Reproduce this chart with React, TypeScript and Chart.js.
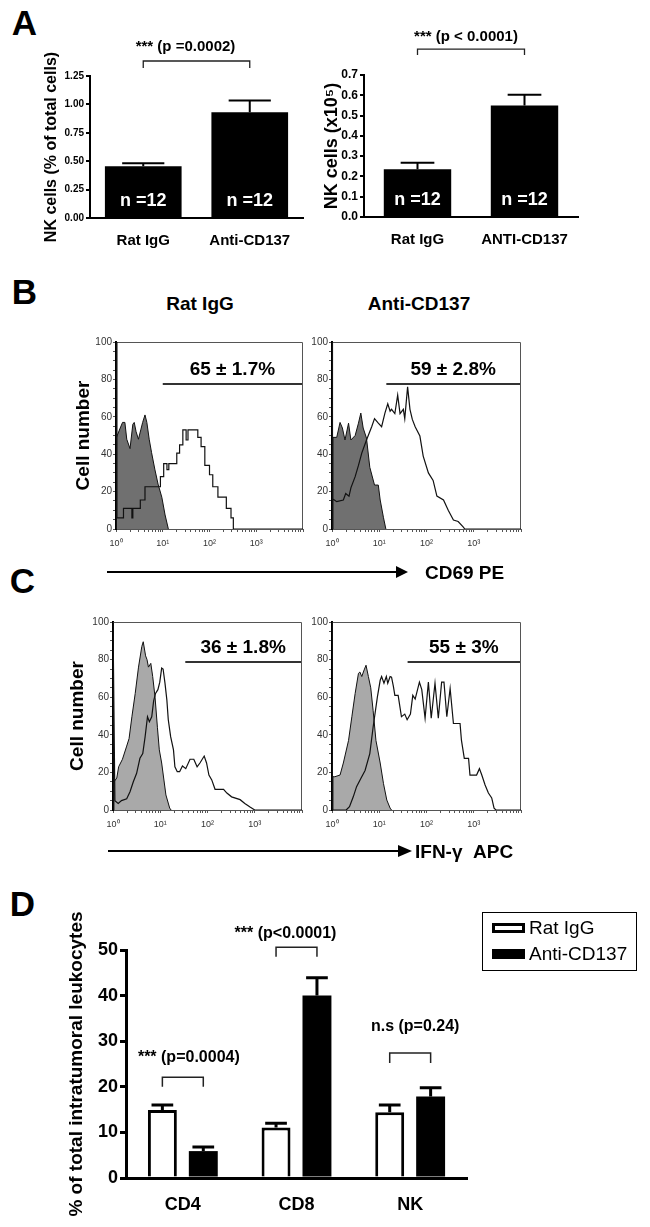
import React, { useEffect, useRef } from 'react';
import { Chart, registerables } from 'chart.js';

Chart.register(...registerables);
const FONT = '"Liberation Sans", Arial, Helvetica, sans-serif';
Chart.defaults.font.family = FONT;
Chart.defaults.color = '#000';

// ---------------- Panel A data ----------------
const groupsA1 = ['Rat IgG', 'Anti-CD137'];
const valuesA1 = [0.455, 0.93];
const errorsA1 = [0.027, 0.105];
const groupsA2 = ['Rat IgG', 'ANTI-CD137'];
const valuesA2 = [0.236, 0.55];
const errorsA2 = [0.032, 0.053];
const nLabelsA = ['n =12', 'n =12'];
const pTextA1 = '*** (p =0.0002)';
const pTextA2 = '*** (p < 0.0001)';

// ---------------- Panel B data (x in decades, y = cell number) ----------------
const bLeftStainedX = [0, 0, 0.02, 0.16, 0.34, 0.36, 0.52, 0.62, 0.95, 1.02, 1.09, 1.13, 1.3, 1.36, 1.43, 1.5, 1.54, 1.75, 1.82, 1.9, 2.0, 2.07, 2.18, 2.36, 2.46, 2.51, 4];
const bLeftStainedY = [0, 100, 6, 11, 6, 11, 15.5, 22.6, 28, 35, 31.7, 35, 40.6, 45, 53, 47.6, 53, 49, 44, 34, 29, 22.6, 17, 11, 6, 0, 0];
const bLeftIsoX = [0, 0.01, 0.09, 0.14, 0.19, 0.23, 0.3, 0.36, 0.39, 0.43, 0.48, 0.53, 0.57, 0.62, 0.66, 0.71, 0.76, 0.83, 0.9, 0.98, 1.05, 1.12];
const bLeftIsoY = [0, 49, 54, 57, 57, 48, 43, 56, 57, 52, 48, 53, 57, 61, 57, 48, 41, 32, 24, 17, 7.5, 0];

const bRightStainedX = [0, 0, 0.02, 0.05, 0.1, 0.24, 0.29, 0.36, 0.4, 0.49, 0.56, 0.63, 0.73, 0.84, 0.9, 0.98, 1.05, 1.12, 1.18, 1.23, 1.26, 1.33, 1.39, 1.44, 1.51, 1.54, 1.6, 1.65, 1.7, 1.76, 1.86, 1.93, 2.04, 2.14, 2.22, 2.36, 2.46, 2.57, 2.67, 2.78, 2.81, 4];
const bRightStainedY = [0, 100, 16, 15.5, 14.6, 15.5, 19, 17.5, 22, 28, 34, 40.6, 47.6, 54.7, 59, 56.6, 54.7, 62, 67, 63, 64, 61.7, 71.6, 61.7, 64, 59, 76, 64, 58.6, 54.7, 49.7, 39, 30, 26, 17.6, 15.5, 10, 4.8, 4, 1, 0, 0];
const bRightIsoX = [0, 0.02, 0.1, 0.17, 0.22, 0.275, 0.35, 0.4, 0.49, 0.56, 0.61, 0.66, 0.73, 0.8, 0.9, 0.98, 1.02, 1.09, 1.14];
const bRightIsoY = [0, 49, 49, 57, 54, 47.6, 56.6, 47.6, 50, 56.6, 62, 54, 48.6, 33, 23.5, 23.5, 15.5, 6, 0];

// ---------------- Panel C data ----------------
const cLeftStainedX = [0, 0, 0.04, 0.11, 0.18, 0.29, 0.36, 0.43, 0.5, 0.57, 0.63, 0.68, 0.73, 0.77, 0.82, 0.86, 0.9, 0.95, 0.99, 1.03, 1.06, 1.1, 1.14, 1.17, 1.22, 1.28, 1.31, 1.36, 1.41, 1.47, 1.54, 1.63, 1.71, 1.78, 1.84, 1.93, 1.98, 2.03, 2.09, 2.16, 2.34, 2.41, 2.51, 2.69, 2.79, 2.9, 3.0, 4];
const cLeftStainedY = [0, 100, 5, 3.5, 5, 6, 9.7, 15, 19.5, 27.5, 30, 39, 49.6, 47, 49.6, 58, 62, 64, 68, 75.5, 75, 67.5, 58.5, 48, 39, 32, 23, 20.4, 20.4, 23.4, 22, 27, 27, 23, 25, 28.7, 25, 18.6, 16, 11, 11, 9, 7, 5.5, 3.5, 1.6, 0, 0];
const cLeftIsoX = [0, 0.02, 0.08, 0.12, 0.2, 0.29, 0.34, 0.4, 0.47, 0.54, 0.61, 0.64, 0.69, 0.72, 0.75, 0.8, 0.84, 0.89, 0.94, 0.98, 1.03, 1.12, 1.2, 1.23];
const cLeftIsoY = [0, 15, 17, 23, 27, 34, 38, 49.6, 62, 76, 87, 89.5, 82, 80, 76, 78, 71, 60, 44, 32, 25, 8, 1, 0];

const cRightStainedX = [0, 0, 0.01, 0.3, 0.37, 0.45, 0.52, 0.61, 0.7, 0.8, 0.87, 0.96, 1.02, 1.05, 1.1, 1.15, 1.18, 1.23, 1.26, 1.3, 1.33, 1.4, 1.47, 1.54, 1.59, 1.66, 1.71, 1.76, 1.85, 1.9, 1.97, 2.04, 2.1, 2.18, 2.25, 2.32, 2.37, 2.43, 2.5, 2.57, 2.71, 2.74, 2.8, 2.89, 2.92, 3.06, 3.12, 3.17, 3.24, 3.31, 3.38, 3.43, 3.47, 4];
const cRightStainedY = [0, 100, 0, 0, 1.8, 7, 12.4, 16.8, 21, 30, 44, 60, 69, 71, 67.4, 71, 67.4, 71, 70.7, 65.6, 61, 61, 49.6, 51, 48, 51, 61, 59, 68, 64, 48.8, 68, 48.8, 67.4, 48.8, 68, 68, 49.6, 64.7, 46, 46, 37, 27.5, 27.5, 18.6, 18.6, 22, 18.6, 13.3, 9, 6.4, 1, 0, 0];
const cRightIsoX = [0, 0.02, 0.06, 0.17, 0.24, 0.35, 0.42, 0.49, 0.56, 0.59, 0.63, 0.68, 0.72, 0.77, 0.82, 0.87, 0.93, 1.02, 1.09, 1.16, 1.23, 1.26];
const cRightIsoY = [0, 17.7, 17.7, 18.6, 25, 37, 49.6, 62, 72.7, 73.4, 71, 74.5, 77, 71, 65, 53, 37, 25, 14, 5.3, 1, 0];

const gateLabels = ['65 ± 1.7%', '59 ± 2.8%', '36 ± 1.8%', '55 ± 3%'];
const gateStarts = [1.0, 1.15, 1.53, 1.6];
const gateLevels = [77.5, 77.5, 78.7, 78.7];
const decadeLabels = ['10⁰', '10¹', '10²', '10³'];

// ---------------- Panel D data ----------------
const categoriesD = ['CD4', 'CD8', 'NK'];
const seriesNamesD = ['Rat IgG', 'Anti-CD137'];
const ratIgG = [14.9, 11.1, 14.4];
const ratIgGErr = [1.1, 0.9, 1.6];
const antiCD137 = [5.9, 40.0, 17.9];
const antiCD137Err = [0.9, 3.9, 1.9];
const pTextsD = ['*** (p=0.0004)', '*** (p<0.0001)', 'n.s (p=0.24)'];
const bracketYD = [22.1, 50.6, 27.4];
const bracketTickD = [20.0, 48.5, 25.2];
const pTextYD = [26.5, 53.7, 33.1];

// ---------------- helpers ----------------
type Rect = { left: number; top: number; w: number; h: number };
type Area = { x0: number; x1: number; y0: number; y1: number };

function frame(c: Rect, a: Area, titleCenter: number | null, titleSize: number) {
  const half = (titleSize * 1.2) / 2;
  const padLeft = titleCenter === null ? 0 : titleCenter - half - c.left;
  return {
    padding: { left: padLeft, top: a.y0 - c.top, right: c.left + c.w - a.x1, bottom: 0 },
    yWidth: a.x0 - c.left - padLeft,
    xHeight: c.top + c.h - a.y1,
  };
}

const zip = (xs: number[], ys: number[]) => xs.slice(0, Math.min(xs.length, ys.length)).map((x, i) => ({ x, y: ys[i] }));

type Bracket = { from: [number, number]; to: [number, number]; y: number; tick: number; textY: number; text: string; dx: number };

function annotPlugin(o: { errors: number[][]; capFrac: number; errWidth: number; nLabels?: string[]; nSize?: number; nOffset?: number; brackets: Bracket[]; pSize: number; bracketWidth: number }) {
  return {
    id: 'annot',
    afterDatasetsDraw(chart: any) {
      const ctx = chart.ctx;
      const ys = chart.scales.y;
      ctx.save();
      ctx.strokeStyle = '#000';
      ctx.lineWidth = o.errWidth;
      o.errors.forEach((errs, di) => {
        const meta = chart.getDatasetMeta(di);
        meta.data.forEach((el: any, i: number) => {
          const v = chart.data.datasets[di].data[i] as number;
          const top = ys.getPixelForValue(v + errs[i]);
          const half = (el.width * o.capFrac) / 2;
          ctx.beginPath();
          ctx.moveTo(el.x, el.y);
          ctx.lineTo(el.x, top);
          ctx.moveTo(el.x - half, top);
          ctx.lineTo(el.x + half, top);
          ctx.stroke();
        });
      });
      if (o.nLabels) {
        const meta = chart.getDatasetMeta(0);
        ctx.fillStyle = '#fff';
        ctx.font = `bold ${o.nSize}px ${FONT}`;
        ctx.textAlign = 'center';
        ctx.textBaseline = 'middle';
        meta.data.forEach((el: any, i: number) => ctx.fillText(o.nLabels![i], el.x, ys.getPixelForValue(0) - (o.nOffset || 0)));
      }
      ctx.strokeStyle = '#222';
      ctx.lineWidth = o.bracketWidth;
      ctx.fillStyle = '#000';
      ctx.font = `bold ${o.pSize}px ${FONT}`;
      ctx.textAlign = 'center';
      ctx.textBaseline = 'middle';
      o.brackets.forEach((b) => {
        const xa = chart.getDatasetMeta(b.from[0]).data[b.from[1]].x;
        const xb = chart.getDatasetMeta(b.to[0]).data[b.to[1]].x;
        const y = ys.getPixelForValue(b.y);
        const yt = ys.getPixelForValue(b.tick);
        ctx.beginPath();
        ctx.moveTo(xa, yt);
        ctx.lineTo(xa, y);
        ctx.lineTo(xb, y);
        ctx.lineTo(xb, yt);
        ctx.stroke();
        ctx.fillText(b.text, (xa + xb) / 2 + b.dx, ys.getPixelForValue(b.textY));
      });
      ctx.restore();
    },
  };
}

function histPlugin(gateFrom: number, gateY: number, label: string) {
  return {
    id: 'hist',
    beforeDatasetsDraw(chart: any) {
      const { ctx, chartArea: a } = chart;
      ctx.save();
      ctx.strokeStyle = '#555';
      ctx.lineWidth = 1;
      ctx.beginPath();
      ctx.moveTo(a.left, a.top + 0.5);
      ctx.lineTo(a.right - 0.5, a.top + 0.5);
      ctx.lineTo(a.right - 0.5, a.bottom);
      ctx.stroke();
      ctx.restore();
    },
    afterDatasetsDraw(chart: any) {
      const { ctx } = chart;
      const xs = chart.scales.x;
      const ys = chart.scales.y;
      const x0 = xs.getPixelForValue(gateFrom);
      const x1 = xs.getPixelForValue(xs.max) - 1;
      const y = ys.getPixelForValue(gateY);
      ctx.save();
      ctx.strokeStyle = '#333';
      ctx.lineWidth = 2;
      ctx.beginPath();
      ctx.moveTo(x0, y);
      ctx.lineTo(x1, y);
      ctx.stroke();
      ctx.fillStyle = '#000';
      ctx.font = `bold 19px ${FONT}`;
      ctx.textAlign = 'center';
      ctx.textBaseline = 'middle';
      ctx.fillText(label, (x0 + x1) / 2, y - 14);
      ctx.restore();
    },
  };
}

function ChartCanvas({ rect, make }: { rect: Rect; make: (cv: HTMLCanvasElement) => Chart }) {
  const ref = useRef<HTMLCanvasElement>(null);
  useEffect(() => {
    const ch = make(ref.current as HTMLCanvasElement);
    return () => ch.destroy();
  }, []);
  return (
    <canvas
      ref={ref}
      width={rect.w}
      height={rect.h}
      style={{ position: 'absolute', left: rect.left, top: rect.top, width: rect.w, height: rect.h }}
    />
  );
}

// ---------------- Panel A charts ----------------
function barA(cv: HTMLCanvasElement, cfg: {
  rect: Rect; area: Area; titleCenter: number; titleSize: number; title: string;
  labels: string[]; values: number[]; errors: number[]; max: number; step: number; decimals: number; tickSize: number;
  barPct: number; capFrac: number; pText: string; bracket: { y: number; tick: number; textY: number; dx: number };
}) {
  const f = frame(cfg.rect, cfg.area, cfg.titleCenter, cfg.titleSize);
  return new Chart(cv, {
    type: 'bar',
    data: {
      labels: cfg.labels,
      datasets: [{ data: cfg.values, backgroundColor: '#000', borderWidth: 0, barPercentage: cfg.barPct, categoryPercentage: 1 }],
    },
    options: {
      animation: false,
      responsive: false,
      devicePixelRatio: 1,
      layout: { padding: f.padding },
      plugins: { legend: { display: false }, tooltip: { enabled: false } },
      scales: {
        x: {
          grid: { display: false },
          border: { color: '#000', width: 2 },
          ticks: { font: { size: 15, weight: 'bold' }, color: '#000', padding: 6, maxRotation: 0 },
          afterFit: (s: any) => { s.height = f.xHeight; },
        },
        y: {
          min: 0,
          max: cfg.max,
          ticks: { stepSize: cfg.step, callback: (v: any) => Number(v).toFixed(cfg.decimals), font: { size: cfg.tickSize, weight: 'bold' }, color: '#000', padding: 2 },
          grid: { drawOnChartArea: false, tickLength: 4, color: '#000', lineWidth: 2 },
          border: { color: '#000', width: 2 },
          title: { display: true, text: cfg.title, font: { size: cfg.titleSize, weight: 'bold' }, color: '#000', padding: 0 },
          afterFit: (s: any) => { s.width = f.yWidth; },
        },
      },
    } as any,
    plugins: [
      annotPlugin({
        errors: [cfg.errors], capFrac: cfg.capFrac, errWidth: 2, nLabels: nLabelsA, nSize: 18, nOffset: 17,
        brackets: [{ from: [0, 0], to: [0, 1], y: cfg.bracket.y, tick: cfg.bracket.tick, textY: cfg.bracket.textY, text: cfg.pText, dx: cfg.bracket.dx }],
        pSize: 15, bracketWidth: 1.3,
      }) as any,
    ],
  });
}

// ---------------- Histogram charts ----------------
function histChart(cv: HTMLCanvasElement, cfg: {
  rect: Rect; area: Area; titleCenter: number | null;
  sx: number[]; sy: number[]; ix: number[]; iy: number[]; stepped: boolean; isoColor: string;
  gate: number;
}) {
  const f = frame(cfg.rect, cfg.area, cfg.titleCenter, 19);
  const xTicks: number[] = [];
  for (let d = 0; d < 4; d++) for (let k = 1; k < 10; k++) xTicks.push(d + Math.log10(k));
  xTicks.push(4);
  const yTicks: number[] = [];
  for (let v = 0; v <= 100; v += 5) yTicks.push(v);
  return new Chart(cv, {
    type: 'scatter',
    data: {
      datasets: [
        { data: zip(cfg.sx, cfg.sy), showLine: true, pointRadius: 0, borderColor: '#111', borderWidth: 1.2, stepped: cfg.stepped ? 'before' : false, fill: false },
        { data: zip(cfg.ix, cfg.iy), showLine: true, pointRadius: 0, borderColor: '#111', borderWidth: 1, backgroundColor: cfg.isoColor, fill: 'origin' },
      ],
    },
    options: {
      animation: false,
      responsive: false,
      devicePixelRatio: 1,
      layout: { padding: f.padding },
      plugins: { legend: { display: false }, tooltip: { enabled: false } },
      scales: {
        x: {
          type: 'linear',
          min: 0,
          max: 4,
          afterBuildTicks: (s: any) => { s.ticks = xTicks.map((v) => ({ value: v })); },
          ticks: {
            autoSkip: false, maxRotation: 0, font: { size: 9 }, color: '#333', padding: 6,
            callback: (v: any) => (Number.isInteger(v) && v < 4 ? decadeLabels[v] : ''),
          },
          grid: { drawOnChartArea: false, tickLength: 3, color: '#555', lineWidth: 1 },
          border: { color: '#555', width: 1 },
          afterFit: (s: any) => { s.height = f.xHeight; },
        },
        y: {
          min: 0,
          max: 100,
          afterBuildTicks: (s: any) => { s.ticks = yTicks.map((v) => ({ value: v })); },
          ticks: { autoSkip: false, font: { size: 10 }, color: '#333', padding: 1, callback: (v: any) => (v % 20 === 0 ? String(v) : '') },
          grid: { drawOnChartArea: false, tickLength: 3, color: '#555', lineWidth: 1 },
          border: { color: '#000', width: 2 },
          title: { display: cfg.titleCenter !== null, text: 'Cell number', font: { size: 19, weight: 'bold' }, color: '#000', padding: 0 },
          afterFit: (s: any) => { s.width = f.yWidth; },
        },
      },
    } as any,
    plugins: [histPlugin(gateStarts[cfg.gate], gateLevels[cfg.gate], gateLabels[cfg.gate]) as any],
  });
}

// ---------------- Panel D chart ----------------
const rectD: Rect = { left: 50, top: 900, w: 430, h: 327 };
const areaD: Area = { x0: 126, x1: 467, y0: 950, y1: 1178 };
const fillD = ['#fff', '#000'];

function chartD(cv: HTMLCanvasElement) {
  const f = frame(rectD, areaD, 77, 19);
  return new Chart(cv, {
    type: 'bar',
    data: {
      labels: categoriesD,
      datasets: [
        { label: seriesNamesD[0], data: ratIgG, backgroundColor: fillD[0], borderColor: '#000', borderWidth: 3, borderSkipped: 'start', barPercentage: 0.707, categoryPercentage: 0.72 },
        { label: seriesNamesD[1], data: antiCD137, backgroundColor: fillD[1], borderColor: '#000', borderWidth: 0, barPercentage: 0.707, categoryPercentage: 0.72 },
      ],
    },
    options: {
      animation: false,
      responsive: false,
      devicePixelRatio: 1,
      layout: { padding: f.padding },
      plugins: { legend: { display: false }, tooltip: { enabled: false } },
      scales: {
        x: {
          grid: { display: false },
          border: { color: '#000', width: 3 },
          ticks: { font: { size: 18, weight: 'bold' }, color: '#000', padding: 8, maxRotation: 0 },
          afterFit: (s: any) => { s.height = f.xHeight; },
        },
        y: {
          min: 0,
          max: 50,
          ticks: { stepSize: 10, font: { size: 18, weight: 'bold' }, color: '#000', padding: 2 },
          grid: { drawOnChartArea: false, tickLength: 6, color: '#000', lineWidth: 3 },
          border: { color: '#000', width: 3 },
          title: { display: true, text: '% of total intratumoral leukocytes', font: { size: 19, weight: 'bold' }, color: '#000', padding: 0 },
          afterFit: (s: any) => { s.width = f.yWidth; },
        },
      },
    } as any,
    plugins: [
      annotPlugin({
        errors: [ratIgGErr, antiCD137Err], capFrac: 0.75, errWidth: 3,
        brackets: categoriesD.map((_, i) => ({
          from: [0, i] as [number, number], to: [1, i] as [number, number],
          y: bracketYD[i], tick: bracketTickD[i], textY: pTextYD[i], text: pTextsD[i], dx: [6, -11, 5][i],
        })),
        pSize: 16, bracketWidth: 1.5,
      }) as any,
    ],
  });
}

// ---------------- page ----------------
function Txt({ x, y, text, size, bold = true, align = 'center' }: { x: number; y: number; text: string; size: number; bold?: boolean; align?: string }) {
  return (
    <div
      style={{
        position: 'absolute', left: x, top: y,
        transform: align === 'center' ? 'translate(-50%,-50%)' : 'translate(0,-50%)',
        fontSize: size, fontWeight: bold ? 'bold' : 'normal', lineHeight: 1, whiteSpace: 'pre', color: '#000',
      }}
    >
      {text}
    </div>
  );
}

const rectA1: Rect = { left: 0, top: 25, w: 320, h: 230 };
const rectA2: Rect = { left: 318, top: 25, w: 280, h: 230 };
const rectBL: Rect = { left: 55, top: 330, w: 258, h: 225 };
const rectBR: Rect = { left: 300, top: 330, w: 230, h: 225 };
const rectCL: Rect = { left: 50, top: 610, w: 262, h: 225 };
const rectCR: Rect = { left: 300, top: 610, w: 230, h: 225 };

export default function App() {
  return (
    <div style={{ position: 'absolute', left: 0, top: 0, width: 650, height: 1227, background: '#fff', fontFamily: FONT, overflow: 'hidden' }}>
      <Txt x={24.5} y={21.5} text="A" size={35} />
      <Txt x={24.5} y={291} text="B" size={35} />
      <Txt x={22.5} y={580} text="C" size={35} />
      <Txt x={22.5} y={903} text="D" size={35} />

      <ChartCanvas rect={rectA1} make={(cv) => barA(cv, {
        rect: rectA1, area: { x0: 90, x1: 303, y0: 76, y1: 218 }, titleCenter: 52, titleSize: 16, title: 'NK cells (% of total cells)',
        labels: groupsA1, values: valuesA1, errors: errorsA1, max: 1.25, step: 0.25, decimals: 2, tickSize: 10,
        barPct: 0.72, capFrac: 0.55, pText: pTextA1, bracket: { y: 1.382, tick: 1.32, textY: 1.505, dx: -11 },
      })} />
      <ChartCanvas rect={rectA2} make={(cv) => barA(cv, {
        rect: rectA2, area: { x0: 364, x1: 578, y0: 75, y1: 217 }, titleCenter: 332, titleSize: 18, title: 'NK cells (x10⁵)',
        labels: groupsA2, values: valuesA2, errors: errorsA2, max: 0.7, step: 0.1, decimals: 1, tickSize: 12,
        barPct: 0.63, capFrac: 0.5, pText: pTextA2, bracket: { y: 0.828, tick: 0.799, textY: 0.887, dx: -5 },
      })} />

      <Txt x={200} y={303} text="Rat IgG" size={19} />
      <Txt x={419} y={303} text="Anti-CD137" size={19} />

      <ChartCanvas rect={rectBL} make={(cv) => histChart(cv, {
        rect: rectBL, area: { x0: 116, x1: 303, y0: 342, y1: 529 }, titleCenter: 84,
        sx: bLeftStainedX, sy: bLeftStainedY, ix: bLeftIsoX, iy: bLeftIsoY, stepped: true, isoColor: '#707070', gate: 0,
      })} />
      <ChartCanvas rect={rectBR} make={(cv) => histChart(cv, {
        rect: rectBR, area: { x0: 332, x1: 521, y0: 342, y1: 529 }, titleCenter: null,
        sx: bRightStainedX, sy: bRightStainedY, ix: bRightIsoX, iy: bRightIsoY, stepped: false, isoColor: '#707070', gate: 1,
      })} />
      <ChartCanvas rect={rectCL} make={(cv) => histChart(cv, {
        rect: rectCL, area: { x0: 113, x1: 302, y0: 622, y1: 810 }, titleCenter: 78,
        sx: cLeftStainedX, sy: cLeftStainedY, ix: cLeftIsoX, iy: cLeftIsoY, stepped: false, isoColor: '#a9a9a9', gate: 2,
      })} />
      <ChartCanvas rect={rectCR} make={(cv) => histChart(cv, {
        rect: rectCR, area: { x0: 332, x1: 521, y0: 622, y1: 810 }, titleCenter: null,
        sx: cRightStainedX, sy: cRightStainedY, ix: cRightIsoX, iy: cRightIsoY, stepped: false, isoColor: '#a9a9a9', gate: 3,
      })} />

      <svg width={650} height={1227} style={{ position: 'absolute', left: 0, top: 0, pointerEvents: 'none' }}>
        <line x1={107} y1={572} x2={398} y2={572} stroke="#000" strokeWidth={2} />
        <polygon points="396,566 408,572 396,578" fill="#000" />
        <line x1={108} y1={851} x2={400} y2={851} stroke="#000" strokeWidth={2} />
        <polygon points="398,845 412,851 398,857" fill="#000" />
      </svg>
      <Txt x={425} y={572} text="CD69 PE" size={19} align="left" />
      <Txt x={415} y={851} text="IFN-γ  APC" size={19} align="left" />

      <ChartCanvas rect={rectD} make={chartD} />

      <div style={{ position: 'absolute', left: 482, top: 912, width: 155, height: 59, border: '1px solid #000', boxSizing: 'border-box' }}>
        {seriesNamesD.map((n, i) => (
          <div key={n} style={{ position: 'absolute', left: 9, top: i === 0 ? 7.5 : 33.5, height: 14, display: 'flex', alignItems: 'center' }}>
            <span style={{ display: 'inline-block', width: 33, height: 10, boxSizing: 'border-box', border: '3px solid #000', background: fillD[i] }} />
            <span style={{ marginLeft: 4, fontSize: 19, lineHeight: 1 }}>{n}</span>
          </div>
        ))}
      </div>
    </div>
  );
}
